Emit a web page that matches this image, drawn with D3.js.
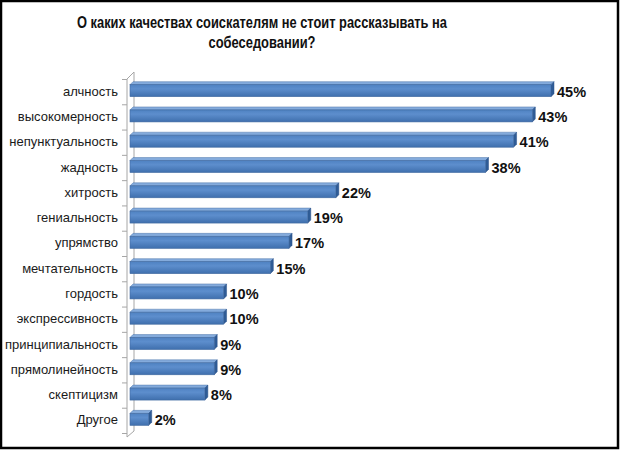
<!DOCTYPE html>
<html><head><meta charset="utf-8">
<script src="https://cdn.jsdelivr.net/npm/d3@7"></script>
<style>html,body{margin:0;padding:0;background:#fff}svg{display:block}</style>
</head><body>
<script>
const titleLines = ["О каких качествах соискателям не стоит рассказывать на", "собеседовании?"];
const categories = ["алчность","высокомерность","непунктуальность","жадность","хитрость","гениальность","упрямство","мечтательность","гордость","экспрессивность","принципиальность","прямолинейность","скептицизм","Другое"];
const values = [45,43,41,38,22,19,17,15,10,10,9,9,8,2];
const valueLabels = ["45%","43%","41%","38%","22%","19%","17%","15%","10%","10%","9%","9%","8%","2%"];

const W = 620, H = 451;
const svg = d3.select("body").append("svg").attr("width", W).attr("height", H);
svg.append("rect").attr("x",0).attr("y",0).attr("width",W).attr("height",H).attr("fill","#fff");

const defs = svg.append("defs");
const g1 = defs.append("linearGradient").attr("id","front").attr("x1",0).attr("y1",0).attr("x2",0).attr("y2",1);
g1.append("stop").attr("offset","0%").attr("stop-color","#4f82c2");
g1.append("stop").attr("offset","35%").attr("stop-color","#5d8ecd");
g1.append("stop").attr("offset","100%").attr("stop-color","#3f6fad");

const y = d3.scaleBand().domain(categories).range([79, 433]);
const x = d3.scaleLinear().domain([0, 45]).range([130, 551]);
const dx = 3, dy = 3;

// 3D wall / axis
const wall = svg.append("g").attr("stroke","#a6a6a6").attr("fill","none").attr("stroke-width",1);
wall.append("path").attr("d", `M127,${y.range()[0]} L127,${y.range()[1]+4} L134,${y.range()[1]-2}`);
wall.append("path").attr("d", `M127,${y.range()[0]} L134,${y.range()[0]-7} L134,${y.range()[1]-2}`);
const bounds = categories.map(c => y(c)).concat([y.range()[1]]);
wall.selectAll("line.t").data(bounds).join("line")
  .attr("x1",122).attr("x2",127).attr("y1",d=>d+0.5).attr("y2",d=>d+0.5);

// category labels
svg.append("g").selectAll("text").data(categories).join("text")
  .attr("x",118).attr("y",c=>y(c)+y.bandwidth()/2+4)
  .attr("text-anchor","end")
  .attr("font-family","'Liberation Sans Narrow','Liberation Sans',Arial,sans-serif")
  .attr("font-size",13).attr("fill","#1a1a1a").text(c=>c);

// bars
const bars = svg.append("g").selectAll("g").data(categories).join("g");
bars.each(function(c,i){
  const g = d3.select(this);
  const cy = y(c) + y.bandwidth()/2;
  const x0 = x(0), x1 = x(values[i]);
  const t = cy - 7, b = cy + 5;
  g.append("path").attr("d",`M${x0},${t} L${x0+dx},${t-dy} L${x1+dx},${t-dy} L${x1},${t} Z`)
   .attr("fill","#84abdc").attr("stroke","#5079ad").attr("stroke-width",0.5);
  g.append("path").attr("d",`M${x1},${t} L${x1+dx},${t-dy} L${x1+dx},${b-dy} L${x1},${b} Z`)
   .attr("fill","#2f5c96").attr("stroke","#2a5089").attr("stroke-width",0.5);
  g.append("rect").attr("x",x0).attr("y",t).attr("width",x1-x0).attr("height",b-t)
   .attr("fill","url(#front)").attr("stroke","#4069a0").attr("stroke-width",0.6);
});

// value labels
svg.append("g").selectAll("text").data(categories).join("text")
  .attr("x",(c,i)=>x(values[i])+dx+3).attr("y",c=>y(c)+y.bandwidth()/2+5)
  .attr("font-family","'Liberation Sans',Arial,sans-serif").attr("font-weight","bold")
  .attr("font-size",14.5).attr("fill","#111").text((c,i)=>valueLabels[i]);

// title
const tf = "'Liberation Sans Narrow','Liberation Sans',Arial,sans-serif";
svg.append("text").attr("x",262).attr("y",28).attr("text-anchor","middle")
  .attr("font-family",tf).attr("font-weight","bold")
  .attr("font-size",17).attr("fill","#111")
  .attr("textLength",370).attr("lengthAdjust","spacingAndGlyphs").text(titleLines[0]);
svg.append("text").attr("x",262).attr("y",48).attr("text-anchor","middle")
  .attr("font-family",tf).attr("font-weight","bold")
  .attr("font-size",17).attr("fill","#111")
  .attr("textLength",107).attr("lengthAdjust","spacingAndGlyphs").text(titleLines[1]);

// frame
svg.append("rect").attr("x",1).attr("y",1).attr("width",W-3).attr("height",H-4)
  .attr("fill","none").attr("stroke","#000").attr("stroke-width",2.5);
</script>
</body></html>
